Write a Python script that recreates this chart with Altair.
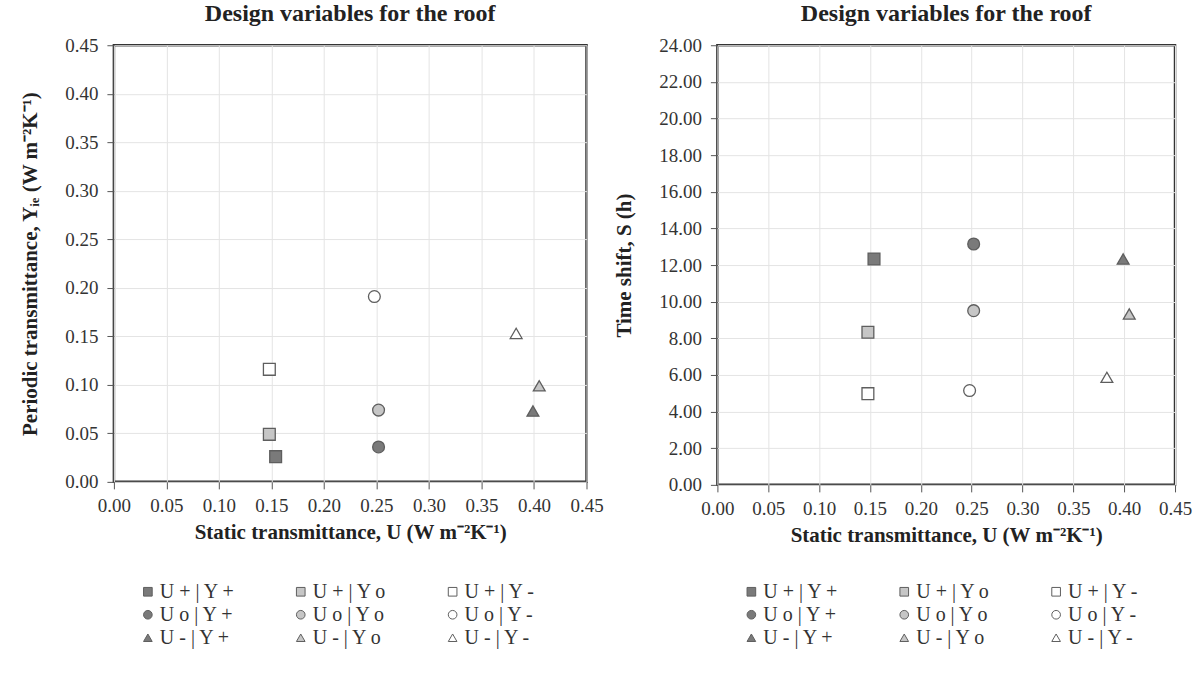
import altair as alt
import pandas as pd

series = ["U + | Y +", "U + | Y o", "U + | Y -",
          "U o | Y +", "U o | Y o", "U o | Y -",
          "U - | Y +", "U - | Y o", "U - | Y -"]
u_values = [0.154, 0.148, 0.148, 0.252, 0.252, 0.248, 0.399, 0.405, 0.383]
periodic_y = [0.026, 0.049, 0.116, 0.036, 0.074, 0.191, 0.073, 0.099, 0.153]
time_shift = [12.33, 8.33, 4.98, 13.15, 9.51, 5.15, 12.33, 9.33, 5.87]

shapes = ["square", "square", "square", "circle", "circle", "circle",
          "triangle-up", "triangle-up", "triangle-up"]
fills = ["#7a7a7a", "#c6c6c6", "#ffffff"] * 3
strokes = ["#5e5e5e"] * 9

df = pd.DataFrame({"series": series, "U": u_values, "Y": periodic_y, "S": time_shift})

FONT = "Liberation Serif"

def panel(ycol, ytitle, ydomain, ystep, w, h, yfmt):
    leg = alt.Legend(title=None, orient="none", columns=3, direction="horizontal",
                     legendX=24, legendY=537, columnPadding=55, rowPadding=3,
                     symbolSize=75, symbolStrokeWidth=1, labelFont=FONT,
                     labelFontSize=20, labelColor="#333333", labelOffset=2)
    return alt.Chart(df).mark_point(size=140, filled=False, opacity=1, strokeWidth=1.3).encode(
        x=alt.X("U:Q", scale=alt.Scale(domain=[0, 0.45], nice=False),
                axis=alt.Axis(title="Static transmittance, U (W m⁻²K⁻¹)",
                              values=[round(i * 0.05, 2) for i in range(10)], format=".2f")),
        y=alt.Y(f"{ycol}:Q", scale=alt.Scale(domain=ydomain, nice=False),
                axis=alt.Axis(title=ytitle,
                              values=[round(i * ystep, 2) for i in range(int(round(ydomain[1] / ystep)) + 1)],
                              format=yfmt)),
        shape=alt.Shape("series:N", scale=alt.Scale(domain=series, range=shapes), legend=leg),
        fill=alt.Fill("series:N", scale=alt.Scale(domain=series, range=fills), legend=leg),
        stroke=alt.Stroke("series:N", scale=alt.Scale(domain=series, range=strokes), legend=leg),
    ).properties(
        width=w, height=h,
        title=alt.TitleParams("Design variables for the roof", font=FONT, fontSize=24,
                              fontWeight="bold", color="#222222", anchor="middle", offset=10),
    )

left = panel("Y", "Periodic transmittance, Yᵢₑ (W m⁻²K⁻¹)", [0, 0.45], 0.05, 473, 437, ".2f")
right = panel("S", "Time shift, S (h)", [0, 24], 2, 458, 440, ".2f")

chart = alt.hconcat(left, right, spacing=8).resolve_scale(
    shape="independent", fill="independent", stroke="independent", x="independent", y="independent"
).resolve_legend(shape="independent", fill="independent", stroke="independent").configure(
    padding={"left": 18, "top": 0, "right": 5, "bottom": 5}
).configure_view(
    stroke="#333333", strokeWidth=2.5
).configure_axis(
    labelFont=FONT, labelFontSize=19, labelColor="#333333", labelFlush=False,
    titleFont=FONT, titleFontSize=21, titleFontWeight="bold", titleColor="#222222",
    gridColor="#e4e4e4", gridWidth=1, domain=False,
    tickColor="#555555", tickSize=7,
).configure_axisX(labelPadding=8, titlePadding=6).configure_axisY(labelPadding=9, titlePadding=24)

chart.save("out.html", embed_options={"renderer": "svg", "actions": False})
